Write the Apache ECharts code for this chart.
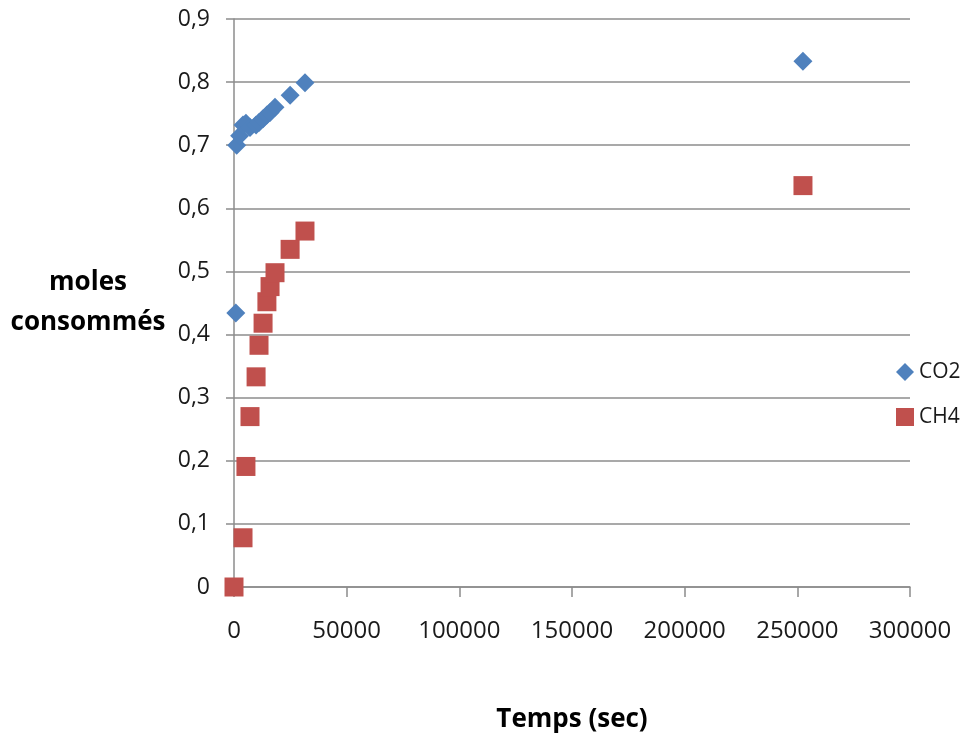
<!DOCTYPE html>
<html>
<head>
<meta charset="utf-8">
<script src="https://cdn.jsdelivr.net/npm/echarts@6/dist/echarts.min.js"></script>
<style>
html,body{margin:0;padding:0;background:#fff;}
#chart{width:967px;height:738px;}
</style>
</head>
<body>
<div id="chart"></div>
<script>
// Data
const co2Time = [800, 1200, 2500, 4000, 5300, 7100, 9800, 11100, 12900, 14600, 16000, 18200, 24900, 31500, 252500];
const co2Moles = [0.434, 0.700, 0.715, 0.732, 0.735, 0.728, 0.732, 0.736, 0.742, 0.748, 0.752, 0.760, 0.779, 0.799, 0.833];
const ch4Time = [0, 4000, 5300, 7100, 9800, 11100, 12900, 14600, 16000, 18200, 24900, 31500, 252500];
const ch4Moles = [0, 0.078, 0.191, 0.270, 0.333, 0.383, 0.418, 0.452, 0.476, 0.498, 0.535, 0.564, 0.636];
const yTickLabels = ['0', '0,1', '0,2', '0,3', '0,4', '0,5', '0,6', '0,7', '0,8', '0,9'];
const xTickLabels = ['0', '50000', '100000', '150000', '200000', '250000', '300000'];
const seriesNames = ['CO2', 'CH4'];

const FONT = 'Open Sans';
const chart = echarts.init(document.getElementById('chart'));
const pairs = (xs, ys) => xs.map((x, i) => [x, ys[i]]);

chart.setOption({
  backgroundColor: '#ffffff',
  animation: false,
  grid: { left: 234, right: 57, top: 19, bottom: 140, containLabel: false },
  legend: {
    orient: 'vertical',
    left: 896,
    top: 360,
    padding: 0,
    itemWidth: 18,
    itemHeight: 18,
    itemGap: 21,
    textStyle: { fontFamily: FONT, fontSize: 21, color: '#1a1a1a', lineHeight: 24 },
    data: [
      { name: seriesNames[0], icon: 'diamond' },
      { name: seriesNames[1], icon: 'rect' }
    ]
  },
  xAxis: {
    type: 'value',
    min: 0,
    max: 300000,
    interval: 50000,
    name: 'Temps (sec)',
    nameLocation: 'middle',
    nameGap: 120,
    nameTextStyle: { fontFamily: FONT, fontSize: 26, fontWeight: 'bold', color: '#000' },
    axisLine: { show: true, lineStyle: { color: '#8c8c8c', width: 1.5 } },
    axisTick: { show: true, length: 10, lineStyle: { color: '#8c8c8c', width: 1.5 } },
    axisLabel: {
      margin: 32, fontFamily: FONT, fontSize: 24, color: '#1a1a1a',
      formatter: (v) => xTickLabels[Math.round(v / 50000)]
    },
    splitLine: { show: false }
  },
  yAxis: {
    type: 'value',
    min: 0,
    max: 0.9,
    interval: 0.1,
    name: 'moles\nconsommés',
    nameLocation: 'middle',
    nameRotate: 0,
    nameGap: 146,
    nameTextStyle: { fontFamily: FONT, fontSize: 26, fontWeight: 'bold', color: '#000', lineHeight: 40, align: 'center' },
    axisLine: { show: true, lineStyle: { color: '#8c8c8c', width: 1.5 } },
    axisTick: { show: true, length: 8, lineStyle: { color: '#8c8c8c', width: 1.5 } },
    axisLabel: {
      margin: 24, fontFamily: FONT, fontSize: 23, color: '#1a1a1a',
      formatter: (v) => yTickLabels[Math.round(v * 10)]
    },
    splitLine: { show: true, lineStyle: { color: '#8c8c8c', width: 1.5 } }
  },
  series: [
    {
      name: seriesNames[0],
      type: 'scatter',
      symbol: 'diamond',
      symbolSize: 19,
      itemStyle: { color: '#4f81bd', opacity: 1 },
      data: pairs(co2Time, co2Moles)
    },
    {
      name: seriesNames[1],
      type: 'scatter',
      symbol: 'rect',
      symbolSize: 19,
      itemStyle: { color: '#c0504d', opacity: 1 },
      data: pairs(ch4Time, ch4Moles)
    }
  ]
});
</script>
</body>
</html>
